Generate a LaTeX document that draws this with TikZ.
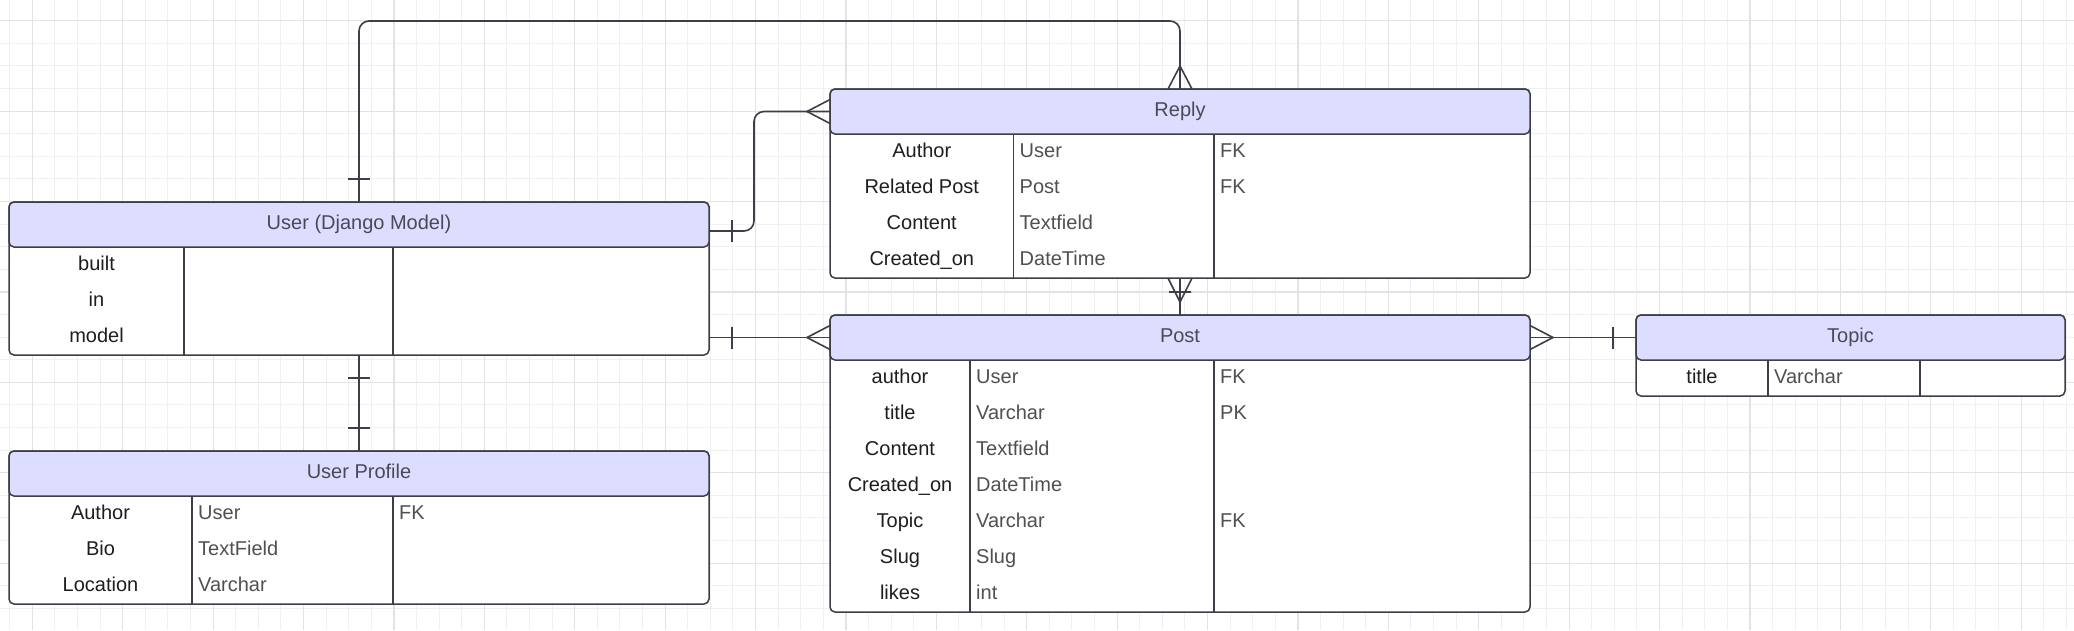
\documentclass[tikz,border=0pt]{standalone}
\usepackage{fontspec}
\setmainfont{Liberation Sans}
\usepackage{tikz}
\usetikzlibrary{calc}
\definecolor{headfill}{HTML}{DDDDFF}
\definecolor{linecol}{HTML}{3E3E48}
\definecolor{headtext}{HTML}{4A4A56}
\definecolor{fieldtext}{HTML}{1E1E1E}
\definecolor{typetext}{HTML}{505050}
\definecolor{gridminor}{HTML}{F0F0F0}
\definecolor{gridmajor}{HTML}{E3E3E3}
\tikzset{
  table body/.style={draw=linecol, line width=1.5pt, fill=white, rounded corners=5pt, inner sep=0pt, outer sep=0pt, anchor=north west},
  table head/.style={draw=linecol, line width=1.5pt, fill=headfill, rounded corners=5pt, inner sep=0pt, outer sep=0pt, anchor=north west, minimum height=45pt, text height=14.5pt, text depth=4.2pt, text=headtext},
  table line/.style={draw=linecol, line width=1.5pt},
  field name/.style={anchor=base, inner sep=0pt, text=fieldtext},
  field type/.style={anchor=base west, inner sep=0pt, text=typetext},
  link/.style={draw=linecol, line width=1.6pt, rounded corners=10pt},
  mark line/.style={draw=linecol, line width=1.6pt},
  grid minor/.style={draw=gridminor, line width=1pt},
  grid major/.style={draw=gridmajor, line width=1.2pt}
}
\newcommand{\ertable}[5] {\node[table body, minimum width=#3pt, minimum height=#4pt] (#1) at (#2) {};
  \node[table head, minimum width=#3pt] (#1 head) at (#1.north west) {#5};}
\newcommand{\errows}[4] {\draw[table line] ([xshift=#2pt]#1 head.south west) -- ([xshift=#2pt]#1.south west);
  \draw[table line] ([xshift=#3pt]#1 head.south west) -- ([xshift=#3pt]#1.south west);
  \foreach \f/\t/\k [count=\i] in {#4} {
    \node[field name] (#1 f\i) at ($(#1 head.south west)+(#2/2,36*\i-13)$) {\f};
    \node[field type] (#1 t\i) at ($(#1 head.south west)+(#2+6,36*\i-13)$) {\t};
    \node[field type] (#1 k\i) at ($(#1 head.south west)+(#3+6,36*\i-13)$) {\k};
  }}
\newcommand{\erone}[2] {\draw[mark line, shift={(#1)}, rotate=#2] (23,-11) -- (23,11);}
\newcommand{\ermany}[2] {\draw[mark line, shift={(#1)}, rotate=#2] (0,-12) -- (23,0) -- (0,12);}
\newcommand{\eronemany}[2] {\draw[mark line, shift={(#1)}, rotate=#2] (0,-12) -- (24,0) -- (0,12) (14,-11) -- (14,11);}

\begin{document}
\begin{tikzpicture}[x=1pt, y=-1pt, font=\fontsize{20}{24}\selectfont]

\fill[white] (0,0) rectangle (2074,630);
\useasboundingbox (0,0) rectangle (2074,630);
\foreach \i in {0,...,91} \draw[grid minor] ({9.7+22.6*\i},0) -- ++(0,630);
\foreach \j in {1,...,27} \draw[grid minor] (0,{22.6*\j-1.9}) -- ++(2074,0);
\foreach \i in {0,...,22} \draw[grid major] ({32.3+90.4*\i},0) -- ++(0,630);
\foreach \j in {0,...,6} \draw[grid major] (0,{20.7+90.4*\j}) -- ++(2074,0);

\ertable{user}{9,202}{700}{153}{User (Django Model)}
\ertable{profile}{9,451}{700}{153}{User Profile}
\ertable{reply}{830,89}{700}{189}{Reply}
\ertable{post}{830,315}{700}{297}{Post}
\ertable{topic}{1636,315}{429}{81}{Topic}

\errows{user}{175}{384}{built/{}/{}, in/{}/{}, model/{}/{}}
\errows{profile}{183}{384}{Author/User/FK, Bio/TextField/{}, Location/Varchar/{}}
\errows{reply}{183.5}{384}{Author/User/FK, Related Post/Post/FK, Content/Textfield/{}, Created\_on/DateTime/{}}
\errows{post}{140}{384}{author/User/FK, title/Varchar/PK, Content/Textfield/{}, Created\_on/DateTime/{}, Topic/Varchar/FK, Slug/Slug/{}, likes/int/{}}
\errows{topic}{132}{284}{title/Varchar/{}}

\coordinate (user reply) at ([yshift=-29pt]user.north east);
\coordinate (user post) at (user.east |- post head.west);

\draw[link] (user.north) |- ([yshift=68pt]reply.north) -- (reply.north);
\draw[link] (user reply) -- ++(45,0) |- (reply head.west);
\draw[link] (user post) -- (post head.west);
\draw[link] (reply.south) -- (post.north);
\draw[link] (post head.east) -- (topic head.west);
\draw[link] (user.south) -- (profile.north);

\erone{user.north}{90}
\ermany{reply.north}{90}
\erone{user reply}{0}
\ermany{reply head.west}{180}
\erone{user post}{0}
\ermany{post head.west}{180}
\eronemany{reply.south}{-90}
\ermany{post head.east}{0}
\erone{topic head.west}{180}
\erone{user.south}{-90}
\erone{profile.north}{90}

\end{tikzpicture}
\end{document}
